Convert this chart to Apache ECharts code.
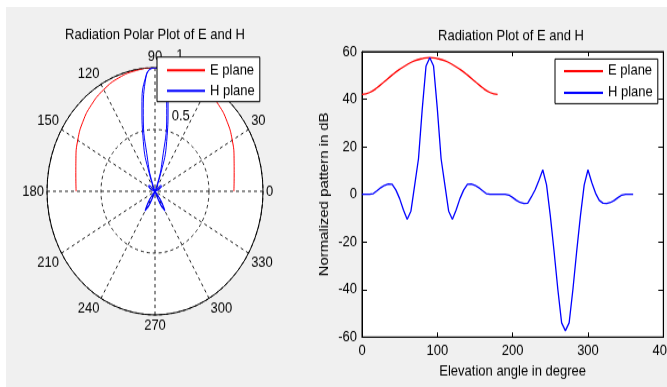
<!DOCTYPE html>
<html>
<head>
<meta charset="utf-8">
<script src="https://cdn.jsdelivr.net/npm/echarts@6/dist/echarts.min.js"></script>
<style>
  body { margin: 0; background: #fff; }
  /* the reference is stretched vertically, so the chart is scaled the same way */
  #chart { position: absolute; left: 6px; top: 7px; width: 661px; height: 332px; transform: scaleY(1.1446); transform-origin: 0 0; }
</style>
</head>
<body>
<div id="chart"></div>
<script>
// E plane, 0..180 deg
const eAngle = [0, 10, 20, 30, 40, 50, 60, 70, 80, 90, 100, 110, 120, 130, 140, 150, 160, 170, 180]
const eDb = [42, 42.8, 44.8, 47.5, 50.2, 52.6, 54.6, 56.2, 57.1, 57.5, 57.1, 56.2, 54.6, 52.6, 50.2, 47.5, 44.8, 42.8, 42]

// H plane, 0..360 deg
const hAngle = [0, 5, 10, 15, 20, 25, 30, 35, 40, 45, 50, 55, 60, 65, 70, 75, 80, 85, 90, 95,
  100, 105, 110, 115, 120, 125, 130, 135, 140, 145, 150, 155, 160, 165, 170, 175, 180, 185, 190, 195,
  200, 205, 210, 215, 220, 225, 230, 235, 240, 245, 250, 255, 260, 265, 270, 275, 280, 285, 290, 295,
  300, 305, 310, 315, 320, 325, 330, 335, 340, 345, 350, 355, 360]
const hDb = [0, 0, 0, 0.3, 1.5, 2.8, 3.8, 4.3, 4.2, 1.8, -1.8, -6.5, -10.5, -7, 4, 15, 36, 54, 57.5, 54,
  36, 15, 4, -7, -10.5, -6.5, -1.8, 1.8, 4.2, 4.3, 3.8, 2.8, 1.5, 0.3, 0, 0, 0, 0, 0, -0.3,
  -1.3, -2.5, -3.4, -3.8, -3.7, -1, 2, 6, 10.3, 4, -9, -24, -40, -54, -57.4, -54, -40, -24, -9, 4,
  10.3, 5, 0.5, -2.5, -3.7, -3.8, -3.4, -2.5, -1.3, -0.3, 0, 0, 0]

const peak = Math.max(...eDb, ...hDb)

const font = 'Liberation Sans, Arial, sans-serif'
const black = '#000'
const dash = { color: '#222', type: [3, 3], width: 1 }

const legendBase = {
  data: ['E plane', 'H plane'],
  orient: 'vertical',
  itemHeight: 14,
  backgroundColor: '#fff',
  borderColor: black,
  borderWidth: 1,
  borderRadius: 0,
  itemStyle: { opacity: 0 },
  textStyle: { fontSize: 13, color: black }
}

const titleStyle = { fontSize: 13, fontWeight: 'normal', color: black }

const chart = echarts.init(document.getElementById('chart'))
chart.setOption({
  animation: false,
  backgroundColor: '#f0f0f0',
  textStyle: { fontFamily: font },
  title: [
    { text: 'Radiation Polar Plot of E and H', left: 149, top: 18, textAlign: 'center', padding: 0, textStyle: titleStyle },
    { text: 'Radiation Plot of E and H', left: 505, top: 18.5, textAlign: 'center', padding: 0, textStyle: titleStyle }
  ],
  legend: [
    { ...legendBase, left: 151, top: 43.7, itemWidth: 38, itemGap: 5, padding: [5, 5, 3, 9] },
    { ...legendBase, left: 549, top: 45.4, itemWidth: 39, itemGap: 6, padding: [4, 5, 3, 8] }
  ],
  // polar plot: polar 0 holds grid and curves, polar 1 the white disc and radius labels
  polar: [
    { center: [149, 161], radius: 108 },
    { center: [149, 161], radius: 108 }
  ],
  angleAxis: [
    {
      polarIndex: 0, type: 'value', min: 0, max: 360, interval: 30, startAngle: 0, clockwise: false, z: 1,
      axisLine: { lineStyle: { color: black, width: 1 } },
      axisTick: { show: false },
      axisLabel: { margin: 3, color: black, fontSize: 13 },
      splitLine: { show: true, lineStyle: dash }
    },
    {
      polarIndex: 1, type: 'value', min: 0, max: 360, startAngle: 85, clockwise: false, z: 0,
      axisLine: { show: false }, axisTick: { show: false }, axisLabel: { show: false },
      splitLine: { show: false },
      splitArea: { show: true, areaStyle: { color: ['#fff'] } }
    }
  ],
  radiusAxis: [
    {
      polarIndex: 0, type: 'value', min: 0, max: 1, interval: 0.5, z: 1,
      axisLine: { show: false }, axisTick: { show: false }, axisLabel: { show: false },
      splitLine: { show: true, lineStyle: dash }
    },
    {
      polarIndex: 1, type: 'value', min: 0, max: 1, interval: 0.5, z: 1,
      axisLine: { show: false }, axisTick: { show: false }, splitLine: { show: false },
      axisLabel: {
        margin: -12, align: 'left', verticalAlign: 'bottom', padding: [0, 0, 6, 0],
        color: black, fontSize: 13,
        formatter: (v) => (v === 0 ? '' : v)
      }
    }
  ],
  // cartesian plot
  grid: {
    left: 356, top: 39, width: 301.3, height: 249.3, outerBoundsMode: 'none',
    show: true, backgroundColor: '#fff', borderColor: black, borderWidth: 1
  },
  xAxis: [
    {
      type: 'value', min: 0, max: 400, interval: 100, position: 'bottom',
      axisLine: { onZero: false, lineStyle: { color: black } },
      axisTick: { inside: true, length: 4, lineStyle: { color: black } },
      axisLabel: { margin: 6, color: black, fontSize: 13 },
      splitLine: { show: false },
      name: 'Elevation angle in degree', nameLocation: 'middle', nameGap: 21.5,
      nameTextStyle: { fontSize: 13, color: black }
    },
    {
      type: 'value', min: 0, max: 400, interval: 100, position: 'top',
      axisLine: { onZero: false, lineStyle: { color: black } },
      axisTick: { inside: true, length: 4, lineStyle: { color: black } },
      axisLabel: { show: false }, splitLine: { show: false }
    }
  ],
  yAxis: [
    {
      type: 'value', min: -60, max: 60, interval: 20, position: 'left',
      axisLine: { show: true, onZero: false, lineStyle: { color: black } },
      axisTick: { show: true, inside: true, length: 5, lineStyle: { color: black } },
      axisLabel: { margin: 5, color: black, fontSize: 13 },
      splitLine: { show: false },
      name: 'Normalized pattern in dB', nameLocation: 'middle', nameGap: 31.5,
      nameTextStyle: { fontSize: 13, color: black }
    },
    {
      type: 'value', min: -60, max: 60, interval: 20, position: 'right',
      axisLine: { show: true, onZero: false, lineStyle: { color: black } },
      axisTick: { show: true, inside: true, length: 5, lineStyle: { color: black } },
      axisLabel: { show: false }, splitLine: { show: false }
    }
  ],
  series: [
    {
      name: 'E plane', type: 'line', coordinateSystem: 'polar', polarIndex: 0, clip: false,
      symbol: 'none', smooth: true, lineStyle: { color: '#f00', width: 1 }, itemStyle: { color: '#f00' },
      data: eDb.map((v, i) => [v / peak, eAngle[i]])
    },
    {
      name: 'H plane', type: 'line', coordinateSystem: 'polar', polarIndex: 0, clip: false,
      symbol: 'none', smooth: true, lineStyle: { color: '#00f', width: 1 }, itemStyle: { color: '#00f' },
      data: hDb.map((v, i) => [v / peak, hAngle[i]])
    },
    {
      name: 'E plane', type: 'line', xAxisIndex: 0, yAxisIndex: 0,
      symbol: 'none', smooth: true, lineStyle: { color: '#f00', width: 1.3 }, itemStyle: { color: '#f00' },
      data: eDb.map((v, i) => [eAngle[i], v])
    },
    {
      name: 'H plane', type: 'line', xAxisIndex: 0, yAxisIndex: 0,
      symbol: 'none', lineStyle: { color: '#00f', width: 1.3 }, itemStyle: { color: '#00f' },
      data: hDb.map((v, i) => [hAngle[i], v])
    }
  ]
})
</script>
</body>
</html>
